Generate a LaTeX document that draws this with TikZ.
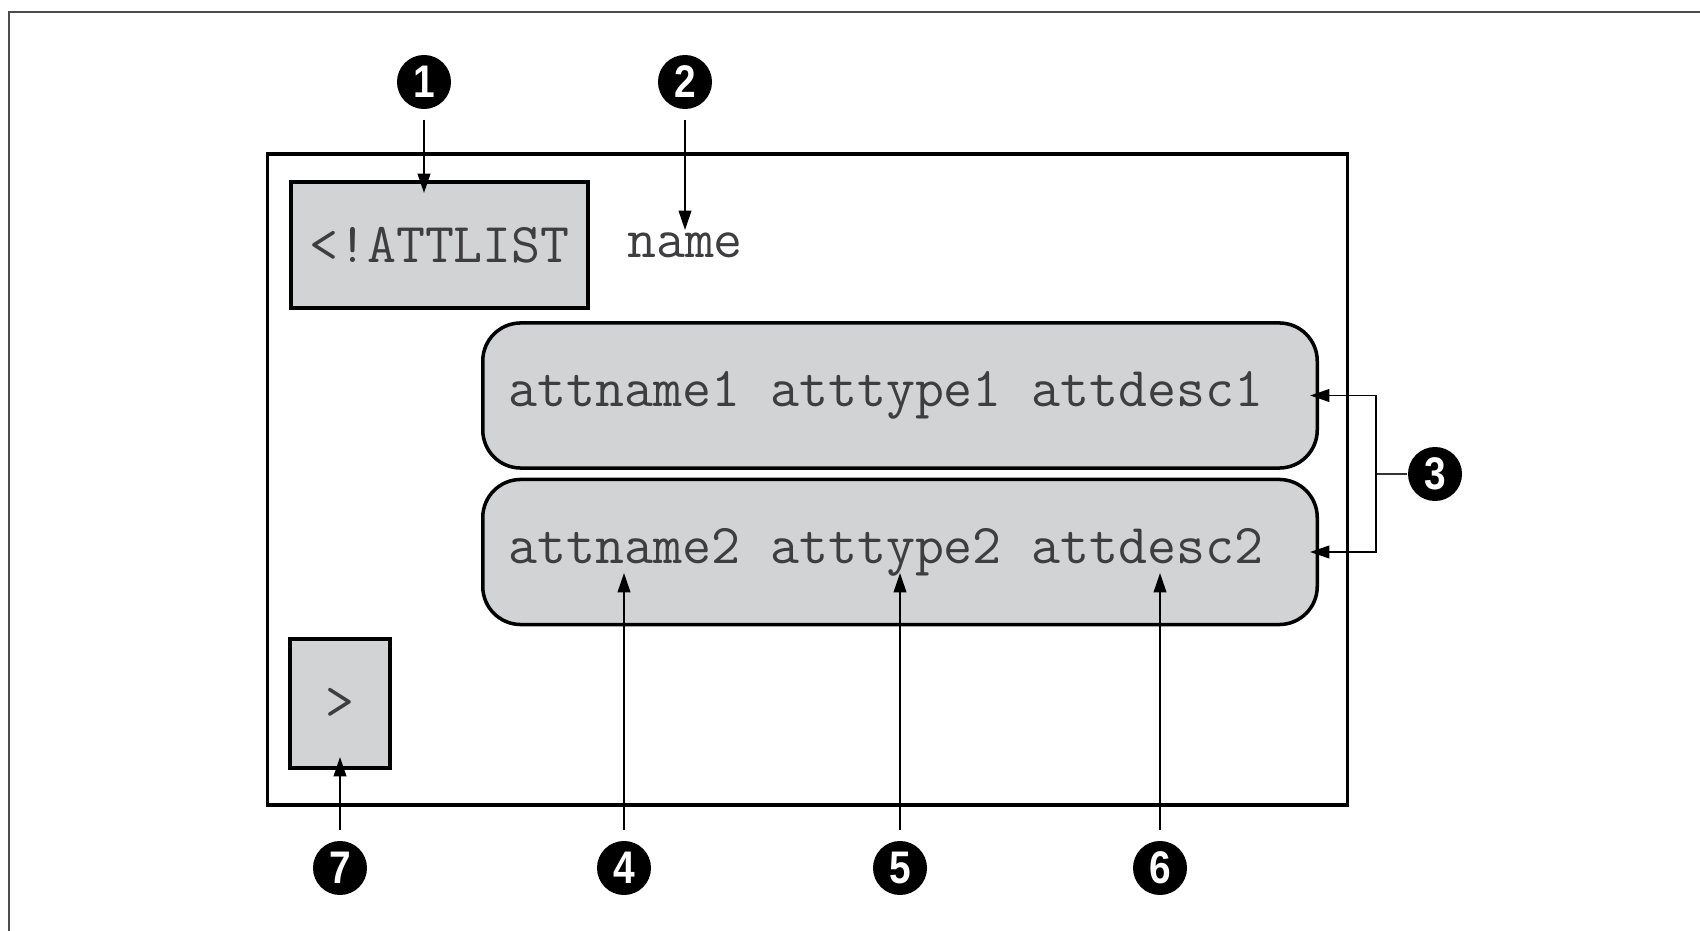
\documentclass[tikz,border=0pt]{standalone}
\usepackage{fontspec}
\newfontfamily\numfont{Liberation Sans}[FakeStretch=0.85]
\usepackage{tikz}
\usetikzlibrary{arrows.meta}
\usepackage{xcolor}
\definecolor{boxgray}{RGB}{210,211,213}
\definecolor{inkgray}{RGB}{62,62,64}
\newcommand{\codefont}{\ttfamily\fontsize{16pt}{18pt}\selectfont}
\newcommand{\wsp}{\hspace{0.525em}}

\begin{document}
\begin{tikzpicture}[x=0.01cm, y=-0.01cm,
    code/.style={font=\codefont, text=inkgray},
    greybox/.style={draw, fill=boxgray, line width=1.2pt, inner sep=0pt},
    rowbox/.style={greybox, line width=1pt, rounded corners=0.38cm, minimum height=1.45cm,
        text width=7.82cm, inner xsep=0.26cm},
    callout/.style={circle, fill=black, minimum size=0.54cm, inner sep=0pt, text=white,
        font=\numfont\bfseries\fontsize{13pt}{14pt}\selectfont},
    pointer/.style={line width=0.5pt, -{Triangle[length=5.5pt, width=3.6pt]}}]
    \useasboundingbox (0,0) rectangle (1700,931);

    % 外框
    \draw[line width=0.7pt, black!70] (9,931) -- (9,12) -- (1700,12);

    % 声明框
    \node[draw, line width=1pt, minimum width=10.79cm, minimum height=6.51cm, inner sep=0pt] (decl) at (807.5,479.5) {};
    \node[greybox, code, minimum width=2.97cm, minimum height=1.26cm] (attlist) at (439.5,245) {<!ATTLIST};
    \node[code, anchor=base] (elname) at (685,258) {name};

    % 属性行
    \node[rowbox, code] (row1) at (900,395.5) {attname1\wsp atttype1\wsp attdesc1};
    \node[rowbox, code] (row2) at (900,552) {attname2\wsp atttype2\wsp attdesc2};

    % 结束符
    \node[greybox, code, minimum width=1cm, minimum height=1.29cm] (close) at (340,703.5) {>};

    % 编号
    \node[callout] (n1) at (424,82) {1};
    \node[callout] (n2) at (685,82) {2};
    \node[callout] (n3) at (1435,474) {3};
    \node[callout] (n4) at (624,868) {4};
    \node[callout] (n5) at (900,868) {5};
    \node[callout] (n6) at (1160,868) {6};
    \node[callout] (n7) at (340,868) {7};

    % 箭头终点
    \coordinate (p1) at (424,193);
    \coordinate (p2) at (685,230);
    \coordinate (p4) at (624,573);
    \coordinate (p5) at (900,573);
    \coordinate (p6) at (1160,573);
    \coordinate (p7) at (340,757);
    \coordinate (fork) at (1376,474);

    % 箭头
    \draw[pointer, shorten <=0.1cm] (n1.south) -- (p1);
    \draw[pointer, shorten <=0.1cm] (n2.south) -- (p2);
    \draw[pointer, shorten <=0.1cm] (n4.north) -- (p4);
    \draw[pointer, shorten <=0.1cm] (n5.north) -- (p5);
    \draw[pointer, shorten <=0.1cm] (n6.north) -- (p6);
    \draw[pointer, shorten <=0.1cm] (n7.north) -- (p7);

    % 括号
    \draw[line width=0.5pt, black!80] (n3.west) -- (fork);
    \draw[pointer, shorten >=-0.09cm] (fork) |- (row1.east);
    \draw[pointer, shorten >=-0.09cm] (fork) |- (row2.east);
\end{tikzpicture}
\end{document}
